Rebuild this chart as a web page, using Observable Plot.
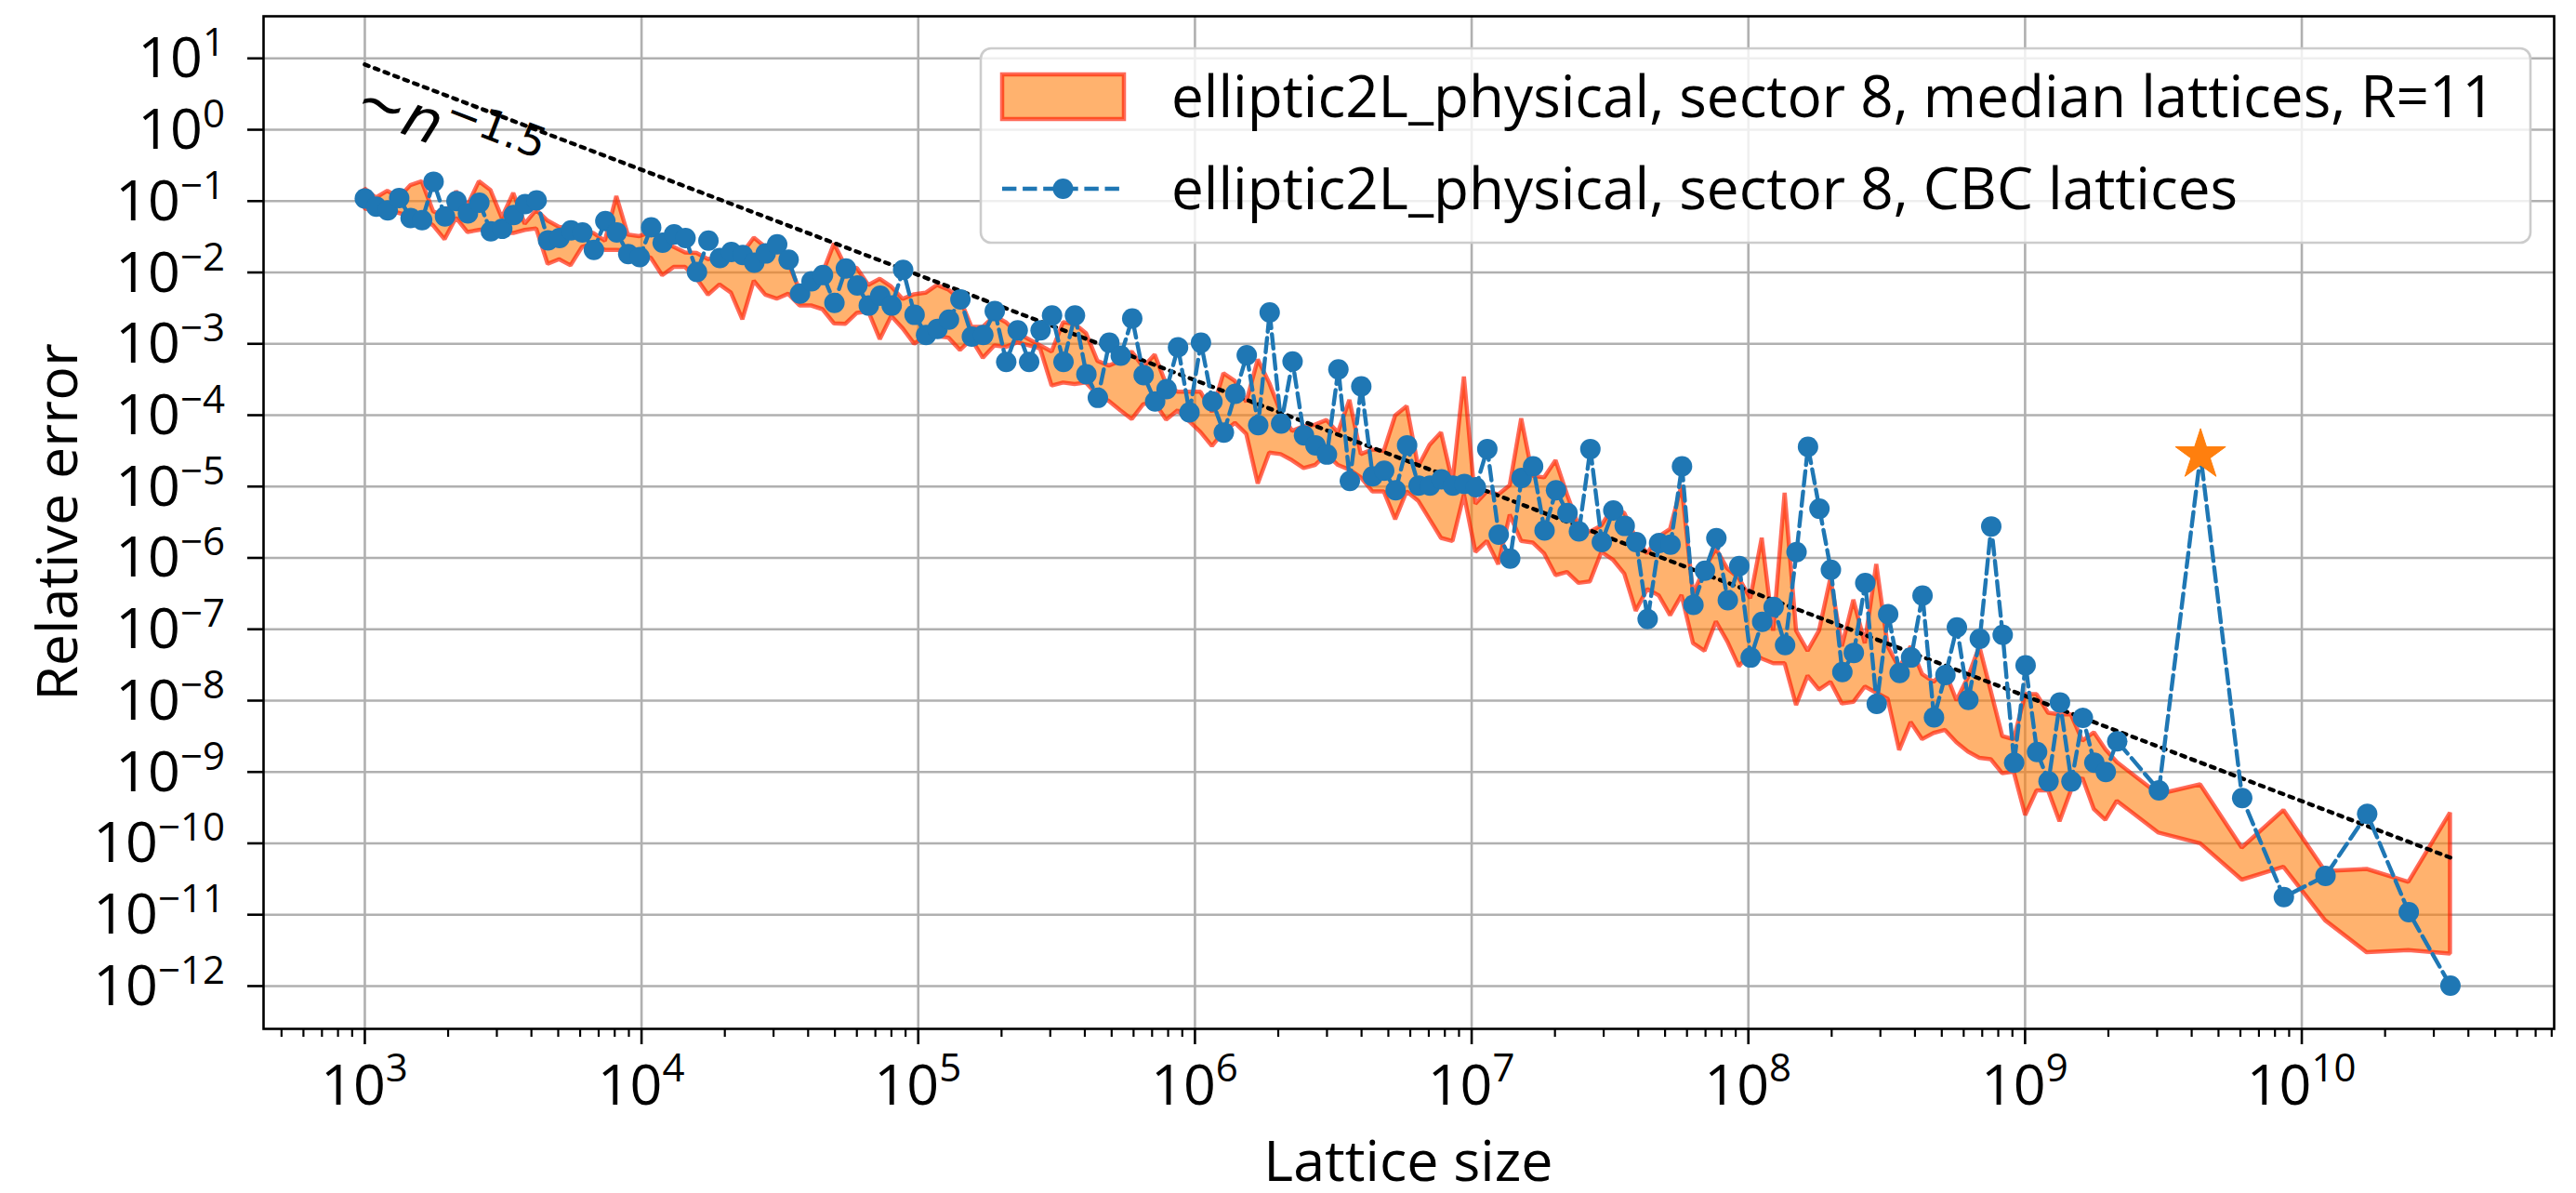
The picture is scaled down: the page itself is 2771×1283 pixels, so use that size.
<!DOCTYPE html>
<html><head><meta charset="utf-8">
<script src="https://cdn.jsdelivr.net/npm/d3@7"></script>
<script src="https://cdn.jsdelivr.net/npm/@observablehq/plot@0.6"></script>
<style>html,body{margin:0;padding:0;background:#fff;} #chart{width:2771px;height:1283px;}</style>
</head><body><div id="chart"></div>
<script>
// ---------- data ----------
const latticeSize = [1000,1100,1210,1331,1464,1611,1772,1949,2144,2358,
2594,2853,3138,3452,3797,4177,4595,5054,5560,6116,
6727,7400,8140,8954,9850,10835,11918,13110,14421,15863,
17449,19194,21114,23225,25548,28102,30913,34004,37404,41145,
45259,49785,54764,60240,66264,72890,80180,88197,97017,106719,
117391,129130,142043,156247,171872,189059,207965,228762,251638,276801,
304482,334930,368423,405265,445792,490371,539408,593349,652683,717952,
789747,868722,955594,1051153,1156269,1271895,1399085,1538993,1692893,1862182,
2048400,2253240,2478564,2726421,2999063,3298969,3628866,3991753,4390928,4830021,
5313023,5844326,6428758,7071634,7778797,8556677,9412345,10353579,11388937,12527831,
13780614,15158675,16674543,18341997,20176197,22193817,24413198,26854518,29539970,32493967,
35743364,39317700,43249470,47574417,52331859,57565045,63321550,69653705,76619075,84280983,
92709081,101979989,112177988,123395787,135735366,149308902,164239793,180663772,198730149,218603164,
240463481,264509829,290960812,320056893,352062583,387268841,425995725,468595298,515454828,567000311,
623700342,686070376,754677414,830145155,913159671,1004475638,1104923201,1215415522,1336957074,1470652781,
1617718059,1779489865,1957438852,2153182737,
3.045e9,4.306e9,6.09e9,8.613e9,1.218e10,1.723e10,2.436e10,3.445e10];

// decimal exponents (log10) of the relative errors
const cbcErrExp = [-0.965,-1.078,-1.13,-0.957,-1.238,-1.268,-0.728,-1.216,-1.0,-1.173,
-1.022,-1.423,-1.389,-1.194,-1.043,-0.991,-1.549,-1.518,-1.41,-1.44,
-1.683,-1.281,-1.44,-1.743,-1.786,-1.367,-1.583,-1.467,-1.518,-1.994,
-1.553,-1.799,-1.713,-1.756,-1.864,-1.734,-1.605,-1.821,-2.296,-2.123,
-2.037,-2.426,-1.944,-2.182,-2.464,-2.325,-2.464,-1.965,-2.594,-2.876,
-2.79,-2.66,-2.377,-2.898,-2.876,-2.542,-3.254,-2.811,-3.254,-2.811,
-2.603,-3.254,-2.603,-3.427,-3.757,-2.985,-3.167,-2.646,-3.44,-3.809,
-3.636,-3.05,-3.961,-2.985,-3.809,-4.243,-3.701,-3.16,-4.139,-2.561,
-4.117,-3.248,-4.283,-4.422,-4.552,-3.357,-4.922,-3.596,-4.857,-4.778,
-5.052,-4.422,-4.987,-4.987,-4.9,-4.987,-4.965,-5.009,-4.474,-5.674,
-6.009,-4.878,-4.717,-5.617,-5.052,-5.37,-5.63,-4.474,-5.778,-5.335,
-5.552,-5.778,-6.857,-5.791,-5.813,-4.717,-6.657,-6.18,-5.724,-6.592,
-6.115,-7.396,-6.896,-6.688,-7.222,-5.919,-4.443,-5.311,-6.167,-7.6,
-7.331,-6.353,-8.047,-6.788,-7.613,-7.396,-6.527,-8.234,-7.643,-6.974,
-7.99,-7.135,-5.559,-7.078,-8.871,-7.504,-8.72,-9.132,-8.025,-9.132,
-8.242,-8.87,-9.0,-8.57,
-9.257,-4.557,-9.365,-10.754,-10.455,-9.587,-10.964,-11.994];

const medianHighExp = [-0.827,-0.957,-0.862,-0.957,-0.784,-0.728,-1.15,-1.216,-0.87,-1.065,
-0.728,-0.849,-1.238,-0.892,-1.324,-1.13,-1.281,-1.367,-1.389,-1.41,
-1.454,-1.562,-0.935,-1.475,-1.497,-1.44,-1.562,-1.648,-1.726,-1.734,
-1.821,-1.778,-1.734,-1.734,-1.518,-1.648,-1.648,-1.864,-2.253,-2.123,
-2.015,-1.6,-1.922,-1.944,-2.182,-2.095,-2.204,-2.377,-2.312,-2.291,
-2.182,-2.247,-2.377,-2.768,-2.768,-2.616,-2.703,-2.855,-2.941,-3.028,
-3.115,-2.703,-2.725,-2.855,-3.245,-3.31,-3.245,-3.115,-3.332,-3.158,
-3.571,-3.679,-3.679,-3.679,-3.961,-3.419,-3.527,-3.82,-3.226,-3.552,
-3.965,-4.226,-4.161,-4.139,-4.074,-4.248,-3.791,-4.552,-4.487,-4.509,
-4.009,-3.878,-4.726,-4.422,-4.248,-4.943,-3.465,-5.248,-5.074,-5.117,
-4.987,-4.052,-4.857,-4.878,-4.639,-5.117,-5.552,-5.639,-5.552,-5.291,
-5.378,-5.726,-5.943,-5.704,-5.6,-4.986,-6.505,-6.158,-5.876,-6.158,
-6.288,-6.571,-5.724,-7.026,-5.094,-7.026,-7.309,-7.026,-6.288,-7.244,
-6.592,-7.2,-6.093,-7.244,-7.548,-7.244,-7.634,-7.743,-7.591,-8.003,
-7.678,-7.244,-7.873,-8.503,-8.547,-7.917,-7.917,-8.177,-8.199,-8.199,
-8.568,-8.449,-8.689,-8.868,
-9.317,-9.18,-10.066,-9.539,-10.395,-10.365,-10.545,-9.575];

const medianLowExp = [-1.108,-1.151,-1.13,-1.173,-1.216,-1.238,-1.346,-1.54,-1.238,-1.44,
-1.41,-1.389,-1.454,-1.454,-1.41,-1.389,-1.886,-1.821,-1.907,-1.648,
-1.605,-1.691,-1.691,-1.7,-1.756,-1.799,-2.045,-1.929,-1.929,-2.089,
-2.318,-2.175,-2.287,-2.663,-2.123,-2.318,-2.374,-2.305,-2.469,-2.469,
-2.521,-2.72,-2.725,-2.573,-2.551,-2.941,-2.616,-2.79,-3.006,-2.898,
-2.898,-2.92,-3.093,-2.941,-3.202,-3.028,-3.05,-2.985,-3.028,-3.072,
-3.592,-3.549,-3.571,-3.549,-3.722,-3.809,-3.939,-4.061,-3.852,-3.831,
-4.069,-3.939,-4.091,-4.243,-4.438,-4.243,-4.113,-4.27,-4.965,-4.53,
-4.552,-4.639,-4.748,-4.704,-4.552,-4.704,-4.77,-4.878,-5.074,-5.074,
-5.465,-5.074,-5.204,-5.465,-5.726,-5.77,-5.117,-5.922,-5.77,-6.096,
-5.4,-5.77,-5.791,-5.943,-6.248,-6.204,-6.357,-6.335,-5.922,-6.03,
-6.226,-6.748,-6.443,-6.53,-6.81,-6.527,-7.2,-7.309,-6.896,-7.178,
-7.526,-7.33,-7.417,-7.482,-7.482,-8.069,-7.656,-7.852,-7.743,-8.047,
-8.025,-7.808,-7.895,-7.982,-8.698,-8.307,-8.546,-8.459,-8.416,-8.59,
-8.72,-8.807,-8.828,-9.024,-9.002,-9.61,-9.263,-9.263,-9.697,-9.263,
-9.089,-9.527,-9.677,-9.41,
-9.856,-10.006,-10.515,-10.335,-11.084,-11.533,-11.503,-11.551];

// dotted ~n^-1.5 guide (end points)
const guideSize = [1000, 3.445e10];
const guideErr = [8.2, 6.3e-11];
const guideLabelAt = [900, 1.62];

// highlighted outlier (star)
const starSize = [4.306e9];
const starErr = [2.77e-5];

// axes
const xTickExps = [3, 4, 5, 6, 7, 8, 9, 10];
const yTickExps = [1, 0, -1, -2, -3, -4, -5, -6, -7, -8, -9, -10, -11, -12];
const minorMults = [2, 3, 4, 5, 6, 7, 8, 9];
const xLabel = "Lattice size";
const yLabel = "Relative error";
const legendLabels = [
  "elliptic2L_physical, sector 8, median lattices, R=11",
  "elliptic2L_physical, sector 8, CBC lattices"
];

// ---------- build ----------
const FONT = "'Open Sans', 'DejaVu Sans', sans-serif";
const FS = 61;
const C_BLUE = "#1f77b4", C_ORANGE = "#ff7f0e", C_EDGE = "#ff1a00", C_GRID = "#b0b0b0";

const band = latticeSize.map((n, i) => ({n, lo: 10 ** medianLowExp[i], hi: 10 ** medianHighExp[i]}));
const cbc = latticeSize.map((n, i) => ({n, e: 10 ** cbcErrExp[i]}));
const guide = guideSize.map((n, i) => ({n, e: guideErr[i]}));
const star = starSize.map((n, i) => ({n, e: starErr[i]}));

const xDomain = [10 ** 2.634, 10 ** 10.912];
const yDomain = [10 ** -12.6, 10 ** 1.59];
const xMajor = xTickExps.map(e => 10 ** e);
const yMajor = yTickExps.map(e => 10 ** e);
const xMinor = [];
for (let e = 2; e <= 10; e++) for (const m of minorMults) {
  const v = m * 10 ** e;
  if (v >= xDomain[0] && v <= xDomain[1]) xMinor.push(v);
}

const plot = Plot.plot({
  width: 2771, height: 1283,
  marginLeft: 283, marginRight: 24, marginTop: 17, marginBottom: 177,
  style: {background: "white", overflow: "visible"},
  x: {type: "log", domain: xDomain, label: null},
  y: {type: "log", domain: yDomain, label: null},
  marks: [
    Plot.gridX(xMajor, {stroke: C_GRID, strokeOpacity: 1, strokeWidth: 2.6}),
    Plot.gridY(yMajor, {stroke: C_GRID, strokeOpacity: 1, strokeWidth: 2.6}),
    Plot.areaY(band, {x: "n", y1: "lo", y2: "hi", fill: C_ORANGE, fillOpacity: 0.6,
      stroke: C_EDGE, strokeOpacity: 0.65, strokeWidth: 4.5, strokeLinejoin: "miter"}),
    Plot.line(guide, {x: "n", y: "e", stroke: "black", strokeWidth: 4.4, strokeDasharray: "4.4 6.9"}),
    Plot.line(cbc, {x: "n", y: "e", stroke: C_BLUE, strokeWidth: 4.4, strokeDasharray: "15.4 6.7"}),
    Plot.dot(cbc, {x: "n", y: "e", r: 11, fill: C_BLUE, stroke: "none"}),
    Plot.dot(star, {x: "n", y: "e", symbol: "star", r: 17, fill: C_ORANGE, stroke: C_ORANGE, strokeWidth: 1}),
    Plot.axisX({ticks: xMinor, tickSize: 9, tickFormat: () => "", strokeWidth: 2.2, label: null}),
    Plot.axisX({ticks: xMajor, tickSize: 17, tickFormat: () => "", strokeWidth: 2.6, label: null}),
    Plot.axisY({ticks: yMajor, tickSize: 17, tickFormat: () => "", strokeWidth: 2.6, label: null}),
    Plot.frame({stroke: "black", strokeWidth: 2.6})
  ]
});
document.getElementById("chart").appendChild(plot);

const sx = plot.scale("x"), sy = plot.scale("y");
const svg = d3.select(plot);
const g = svg.append("g").attr("font-family", FONT).attr("fill", "black").attr("text-anchor", "start");

// x tick labels 10^e
xTickExps.forEach(e => {
  const t = g.append("text").attr("x", sx.apply(10 ** e)).attr("y", 1188)
    .attr("text-anchor", "middle").attr("font-size", FS);
  t.append("tspan").text("10");
  t.append("tspan").attr("font-size", 42).attr("dy", -25).text(String(e).replace("-", "\u2212"));
});
// y tick labels
yTickExps.forEach(e => {
  const t = g.append("text").attr("x", 242).attr("y", sy.apply(10 ** e) + 21)
    .attr("text-anchor", "end").attr("font-size", FS);
  t.append("tspan").text("10");
  t.append("tspan").attr("font-size", 42).attr("dy", -23).text(String(e).replace("-", "\u2212"));
});
// axis labels
g.append("text").attr("x", (283 + 2747) / 2).attr("y", 1270).attr("text-anchor", "middle")
  .attr("font-size", FS).text(xLabel);
g.append("text").attr("transform", `translate(83,${(17 + 1106) / 2}) rotate(-90)`)
  .attr("text-anchor", "middle").attr("font-size", FS).text(yLabel);

// guide label ~n^-1.5
{
  const t = g.append("text")
    .attr("transform", `translate(${sx.apply(guideLabelAt[0])},${sy.apply(guideLabelAt[1])}) rotate(21)`)
    .attr("text-anchor", "start")
    .attr("font-family", "'DejaVu Sans', sans-serif").attr("font-size", 64);
  t.append("tspan").text("\u223C");
  t.append("tspan").attr("font-style", "italic").text("n");
  t.append("tspan").attr("font-size", 46).attr("dy", -27).text("\u22121.5");
}

// legend
{
  const L = g.append("g").attr("text-anchor", "start");
  L.append("rect").attr("x", 1055).attr("y", 52).attr("width", 1667).attr("height", 209).attr("rx", 11)
    .attr("fill", "white").attr("fill-opacity", 0.8).attr("stroke", "#cccccc").attr("stroke-width", 2.6);
  L.append("rect").attr("x", 1078).attr("y", 80).attr("width", 131).attr("height", 48)
    .attr("fill", C_ORANGE).attr("fill-opacity", 0.6).attr("stroke", C_EDGE).attr("stroke-opacity", 0.65).attr("stroke-width", 4.5);
  L.append("line").attr("x1", 1078).attr("x2", 1209).attr("y1", 203).attr("y2", 203)
    .attr("stroke", C_BLUE).attr("stroke-width", 4.4).attr("stroke-dasharray", "15.4 6.7");
  L.append("circle").attr("cx", 1143.5).attr("cy", 203).attr("r", 11).attr("fill", C_BLUE);
  L.append("text").attr("x", 1260).attr("y", 126).attr("text-anchor", "start").attr("font-size", 62).text(legendLabels[0]);
  L.append("text").attr("x", 1260).attr("y", 225).attr("text-anchor", "start").attr("font-size", 62).text(legendLabels[1]);
}
</script>
</body></html>
